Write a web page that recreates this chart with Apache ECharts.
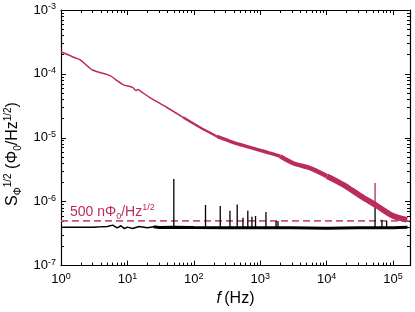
<!DOCTYPE html>
<html><head><meta charset="utf-8">
<script src="https://cdn.jsdelivr.net/npm/echarts@6/dist/echarts.min.js"></script>
<style>html,body{margin:0;padding:0;background:#fff}#c{width:415px;height:312px}</style>
</head><body><div id="c"></div>
<script>
// ---------- data ----------
const xTickExps = [0, 1, 2, 3, 4, 5];
const yTickExps = [-7, -6, -5, -4, -3];
const xMinorTicks = [2,3,4,5,6,7,8,9,20,30,40,50,60,70,80,90,200,300,400,500,600,700,800,900,2000,3000,4000,5000,6000,7000,8000,9000,20000,30000,40000,50000,60000,70000,80000,90000];
const yMinorTicks = [2e-7,3e-7,4e-7,5e-7,6e-7,7e-7,8e-7,9e-7,2e-6,3e-6,4e-6,5e-6,6e-6,7e-6,8e-6,9e-6,2e-5,3e-5,4e-5,5e-5,6e-5,7e-5,8e-5,9e-5,2e-4,3e-4,4e-4,5e-4,6e-4,7e-4,8e-4,9e-4];

const redFreq = [1,1.62,1.93,2.55,2.93,3.87,5.47,6.97,8.6,12.1,13.4,14.4,16,21.8,39.4,68.7,123,223,388,702,1264,1980,3120,5630,10140,17700,31800,57400,100000,163000];
const redVal  = [2.22e-4,1.79e-4,1.67e-4,1.30e-4,1.16e-4,1.05e-4,9.4e-5,7.85e-5,6.8e-5,6.1e-5,5.48e-5,5.7e-5,5.3e-5,4.27e-5,2.98e-5,2.09e-5,1.46e-5,1.05e-5,8.5e-6,7.1e-6,5.94e-6,5.15e-6,4.0e-6,3.35e-6,2.5e-6,1.85e-6,1.25e-6,8.6e-7,6.0e-7,5.2e-7];

const blackFreq = [1,2,3,4,5,6,7,8,9,10,12,15,20,25,30,50,100,300,1000,3000,10000,30000,100000,165000];
const blackVal  = [4.0e-7,4.0e-7,4.0e-7,4.05e-7,4.1e-7,4.3e-7,3.9e-7,4.2e-7,3.8e-7,4.0e-7,3.8e-7,4.1e-7,3.9e-7,4.05e-7,3.95e-7,4.0e-7,3.95e-7,3.9e-7,3.9e-7,3.9e-7,3.85e-7,3.9e-7,3.9e-7,4.0e-7];

const spikeFreq = [50,150,250,350,450,550,650,750,850,1220,1730,1850,53600,68000,80000];
const spikePeak = [2.26e-6,8.9e-7,8.6e-7,7.2e-7,9.0e-7,5.6e-7,7.2e-7,5.8e-7,6.0e-7,6.9e-7,5.0e-7,5.0e-7,8.5e-7,5.2e-7,5.0e-7];
const spikeBase = 3.9e-7;

const redSpikeFreq = [53600];
const redSpikePeak = [1.96e-6];
const redSpikeBase = 8.6e-7;

const limitFreq = [1, 180000];
const limitVal = [5e-7, 5e-7];

// ---------- chart ----------
const RED = '#BC2C58';
const FONT = 'Liberation Sans, Arial, sans-serif';
const chart = echarts.init(document.getElementById('c'));

function pairs(xs, ys, lo, hi) {
  const out = [];
  for (let i = 0; i < xs.length; i++) if (xs[i] >= lo && xs[i] <= hi) out.push([xs[i], ys[i]]);
  return out;
}
const labelRich = {
  b: {fontSize: 13, fontFamily: FONT, color: '#000', lineHeight: 16},
  s: {fontSize: 9, fontFamily: FONT, color: '#000', verticalAlign: 'top', lineHeight: 16, padding: [0,0,5,0]}
};
function expFmt(v) { return '{b|10}{s|' + Math.round(Math.log10(v)) + '}'; }

const xMin = 1, xMax = 180000, yMin = 1e-7, yMax = 1e-3;
const baseX = {type: 'log', logBase: 10, min: xMin, max: xMax, interval: 1, splitLine: {show: false}, gridIndex: 0};
const baseY = {type: 'log', logBase: 10, min: yMin, max: yMax, interval: 1, splitLine: {show: false}, gridIndex: 0};

const xAxes = [
  Object.assign({}, baseX, {position: 'bottom', axisLine: {show: true, lineStyle: {color: '#000', width: 1.2}},
    axisTick: {show: true, inside: true, length: 5, lineStyle: {color: '#000'}},
    axisLabel: {show: true, margin: 6, formatter: expFmt, rich: labelRich,
      customValues: xTickExps.map(e => Math.pow(10, e))},
    name: '{i|f} {n|(Hz)}', nameLocation: 'middle', nameGap: 24,
    nameTextStyle: {rich: {i: {fontSize: 16, fontStyle: 'italic', fontFamily: FONT, color: '#000'}, n: {fontSize: 16, fontFamily: FONT, color: '#000'}}}}),
  Object.assign({}, baseX, {position: 'top', axisLine: {show: true, lineStyle: {color: '#000', width: 1.2}},
    axisTick: {show: true, inside: true, length: 5, lineStyle: {color: '#000'}}, axisLabel: {show: false}}),
  Object.assign({}, baseX, {position: 'bottom', axisLine: {show: false},
    axisTick: {show: true, inside: true, length: 3, customValues: xMinorTicks, lineStyle: {color: '#000'}}, axisLabel: {show: false}}),
  Object.assign({}, baseX, {position: 'top', axisLine: {show: false},
    axisTick: {show: true, inside: true, length: 3, customValues: xMinorTicks, lineStyle: {color: '#000'}}, axisLabel: {show: false}})
];
const yAxes = [
  Object.assign({}, baseY, {position: 'left', axisLine: {show: true, lineStyle: {color: '#000', width: 1.2}},
    axisTick: {show: true, inside: true, length: 5, lineStyle: {color: '#000'}},
    axisLabel: {show: true, margin: 5, formatter: expFmt, rich: labelRich,
      customValues: yTickExps.map(e => Math.pow(10, e))}}),
  Object.assign({}, baseY, {position: 'right', axisLine: {show: true, lineStyle: {color: '#000', width: 1.2}},
    axisTick: {show: true, inside: true, length: 5, lineStyle: {color: '#000'}}, axisLabel: {show: false}}),
  Object.assign({}, baseY, {position: 'left', axisLine: {show: false},
    axisTick: {show: true, inside: true, length: 3, customValues: yMinorTicks, lineStyle: {color: '#000'}}, axisLabel: {show: false}}),
  Object.assign({}, baseY, {position: 'right', axisLine: {show: false},
    axisTick: {show: true, inside: true, length: 3, customValues: yMinorTicks, lineStyle: {color: '#000'}}, axisLabel: {show: false}})
];

const series = [];
function lineS(data, color, width, z, extra) {
  return Object.assign({type: 'line', xAxisIndex: 0, yAxisIndex: 0, data: data, showSymbol: false, symbol: 'none',
    silent: true, animation: false, z: z, lineStyle: {color: color, width: width}}, extra || {});
}
// limit dashed line
series.push(lineS(pairs(limitFreq, limitVal, 0, 1e9), '#C9557C', 1.8, 2, {lineStyle: {color: '#C9557C', width: 1.8, type: [7, 4]}}));
// black curve
series.push(lineS(pairs(blackFreq, blackVal, 0, 30), '#000', 1.5, 3));
series.push(lineS(pairs(blackFreq, blackVal, 25, 1e9), '#000', 3.0, 3));
spikeFreq.forEach((f, i) => series.push(lineS([[f, spikeBase], [f, spikePeak[i]]], '#000', 1.3, 3)));
// red curve (band gets wider with frequency)
const redSegs = [[0, 70, 1.5], [68, 230, 2.4], [220, 2000, 3.4], [1900, 12000, 4.4], [10000, 1e9, 5.6]];
redSegs.forEach(s => series.push(lineS(pairs(redFreq, redVal, s[0], s[1]), RED, s[2], 4, {smooth: 0.3})));
redSpikeFreq.forEach((f, i) => series.push(lineS([[f, redSpikeBase], [f, redSpikePeak[i]]], RED, 1.3, 4)));

chart.setOption({
  animation: false,
  backgroundColor: '#fff',
  grid: {left: 61, right: 5, top: 10, bottom: 45, containLabel: false},
  xAxis: xAxes,
  yAxis: yAxes,
  series: series,
  graphic: [
    {type: 'text', x: 70, y: 212, silent: true,
      style: {text: '{a|500 nΦ}{sub|0}{a|/Hz}{sup|1/2}', verticalAlign: 'middle', align: 'left',
        rich: {a: {fontSize: 14, fontFamily: FONT, fill: RED, lineHeight: 18},
               sub: {fontSize: 9, fontFamily: FONT, fill: RED, verticalAlign: 'bottom', lineHeight: 18},
               sup: {fontSize: 9, fontFamily: FONT, fill: RED, verticalAlign: 'top', lineHeight: 18}}}},
    {type: 'text', x: 13, y: 154, rotation: Math.PI / 2, silent: true,
      style: {text: '{a|S}{sub|Φ}{sup|1/2}{a| (Φ}{sub|0}{a|/Hz}{sup|1/2}{a|)}', verticalAlign: 'middle', align: 'center',
        rich: {a: {fontSize: 16, fontFamily: FONT, fill: '#000', lineHeight: 20},
               sub: {fontSize: 10, fontFamily: FONT, fill: '#000', verticalAlign: 'bottom', lineHeight: 20},
               sup: {fontSize: 10, fontFamily: FONT, fill: '#000', verticalAlign: 'top', lineHeight: 20}}}}
  ]
});
</script></body></html>
